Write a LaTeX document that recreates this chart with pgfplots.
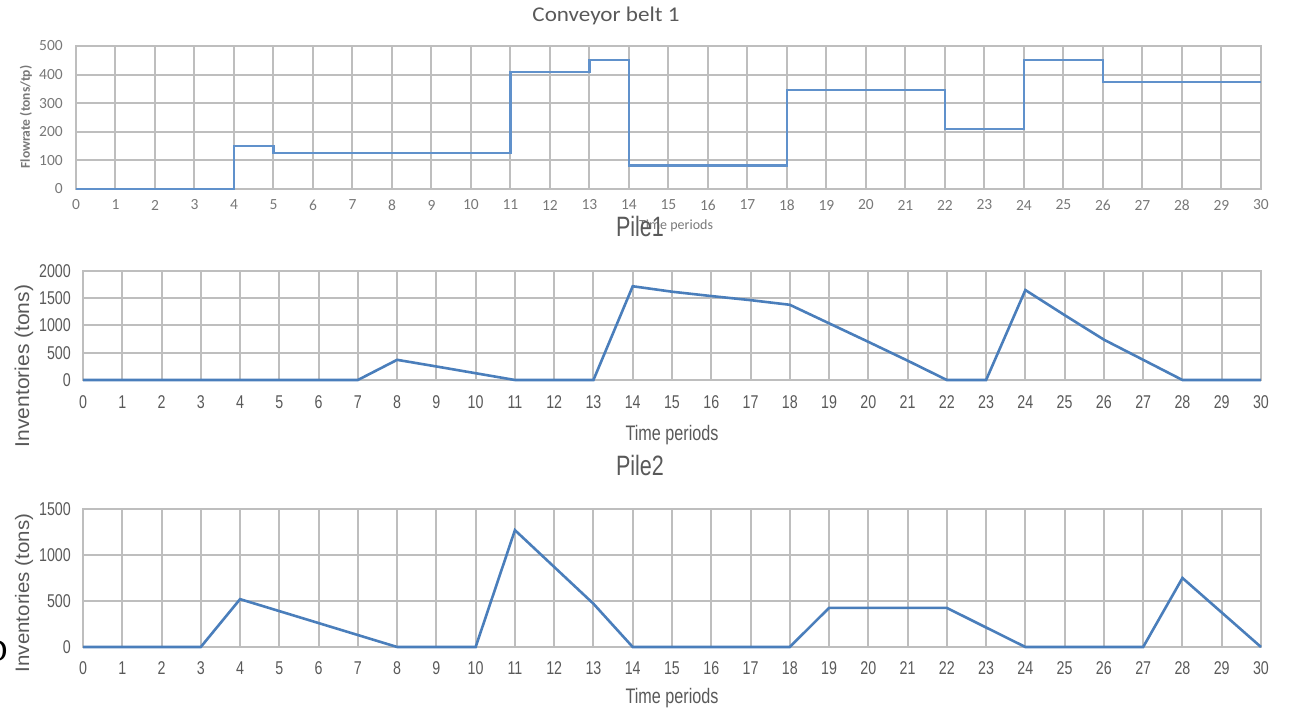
\documentclass[border=0pt]{standalone}
\usepackage{pgfplots}
\pgfplotsset{compat=1.18}
\usepackage{fontspec}
\setmainfont{Liberation Sans}
\newfontfamily\carlito{Carlito}
\newfontfamily\carlitowide[FakeStretch=1.1]{Carlito}
\newfontfamily\narrow[FakeStretch=0.77]{Liberation Sans}
\newfontfamily\wide[FakeStretch=1.05]{Liberation Sans}
\newfontfamily\serif{Liberation Serif}
\definecolor{gridgray}{RGB}{190,190,190}
\definecolor{toplabel}{RGB}{120,120,120}
\definecolor{pilelabel}{RGB}{89,89,89}
\definecolor{topblue}{RGB}{96,145,203}
\definecolor{pileblue}{RGB}{74,126,187}
\pgfplotsset{
  base/.style={
    scale only axis, anchor=south west,
    xmin=0, xmax=30, ymin=0,
    xtick={0,...,30},
    grid=major,
    major grid style={line width=2pt, color=gridgray},
    axis line style={line width=2pt, color=gridgray},
    tick style={draw=none},
    clip=false,
    scaled y ticks=false,
    /pgf/number format/assume math mode=true,
    /pgf/number format/1000 sep={},
  },
}
\begin{document}
\begin{tikzpicture}[x=1pt,y=1pt]
\useasboundingbox (0,0) rectangle (1291,708);
% ---------- Conveyor belt 1 ----------
\begin{axis}[base,
  at={(76pt,519pt)}, width=1185pt, height=143pt,
  ymax=500, ytick={0,100,...,500},
  xticklabel style={font=\carlito\fontsize{15.5}{15.5}\selectfont, text=toplabel, anchor=center, yshift=-16pt},
  yticklabel style={font=\carlito\fontsize{15.5}{15.5}\selectfont, text=toplabel, anchor=east, inner sep=0pt, xshift=-13pt},
]
\addplot[const plot, color=topblue, line width=2.2pt] coordinates {
(0,0) (4,150) (5,125) (11,410) (13,450) (14,82) (18,345) (22,210) (24,450) (26,375) (30,375)};
\end{axis}
% ---------- Pile1 ----------
\begin{axis}[base,
  at={(83pt,328pt)}, width=1178pt, height=109pt,
  ymax=2000, ytick={0,500,...,2000},
  xticklabel style={font=\narrow\fontsize{18.5}{18.5}\selectfont, text=pilelabel, anchor=center, yshift=-22pt},
  yticklabel style={font=\narrow\fontsize{18.5}{18.5}\selectfont, text=pilelabel, anchor=east, inner sep=0pt, xshift=-12pt},
]
\addplot[color=pileblue, line width=2.6pt] coordinates {
(0,0) (1,0) (2,0) (3,0) (4,0) (5,0) (6,0) (7,0) (8,370) (9,248) (10,124) (11,0) (12,0) (13,0)
(14,1720) (15,1620) (16,1540) (17,1465) (18,1380) (19,1040) (20,700) (21,355) (22,0) (23,0)
(24,1650) (25,1190) (26,740) (27,370) (28,0) (29,0) (30,0)};
\end{axis}
% ---------- Pile2 ----------
\begin{axis}[base,
  at={(83pt,61pt)}, width=1178pt, height=138pt,
  ymax=1500, ytick={0,500,...,1500},
  xticklabel style={font=\narrow\fontsize{18.5}{18.5}\selectfont, text=pilelabel, anchor=center, yshift=-21pt},
  yticklabel style={font=\narrow\fontsize{18.5}{18.5}\selectfont, text=pilelabel, anchor=east, inner sep=0pt, xshift=-12pt},
]
\addplot[color=pileblue, line width=2.6pt] coordinates {
(0,0) (1,0) (2,0) (3,0) (4,520) (5,390) (6,260) (7,130) (8,0) (9,0) (10,0)
(11,1270) (12,870) (13,470) (14,0) (15,0) (16,0) (17,0) (18,0)
(19,425) (20,425) (21,425) (22,425) (23,212) (24,0) (25,0) (26,0) (27,0)
(28,750) (29,375) (30,0)};
\end{axis}
% ---------- texts ----------
\node[font=\carlitowide\fontsize{21}{21}\selectfont, text=pilelabel] at (606,692) {Conveyor belt 1};
\node[font=\carlito\bfseries\fontsize{13.5}{13.5}\selectfont, text=toplabel, rotate=90] at (26,591) {Flowrate (tons/tp)};
\node[font=\carlito\fontsize{14}{14}\selectfont, text=toplabel] at (676,482) {Time periods};
\node[font=\narrow\fontsize{28}{28}\selectfont, text=pilelabel] at (640,481) {Pile1};
\node[font=\wide\fontsize{20}{20}\selectfont, text=pilelabel, rotate=90] at (24,342) {Inventories (tons)};
\node[font=\narrow\fontsize{21}{21}\selectfont, text=pilelabel] at (672,273) {Time periods};
\node[font=\narrow\fontsize{28}{28}\selectfont, text=pilelabel] at (640,242) {Pile2};
\node[font=\wide\fontsize{19.5}{19.5}\selectfont, text=pilelabel, rotate=90] at (24,115) {Inventories (tons)};
\node[font=\narrow\fontsize{21}{21}\selectfont, text=pilelabel] at (672,10) {Time periods};
\node[font=\serif\fontsize{32}{32}\selectfont, text=black] at (-4,57) {D};
\end{tikzpicture}
\end{document}
